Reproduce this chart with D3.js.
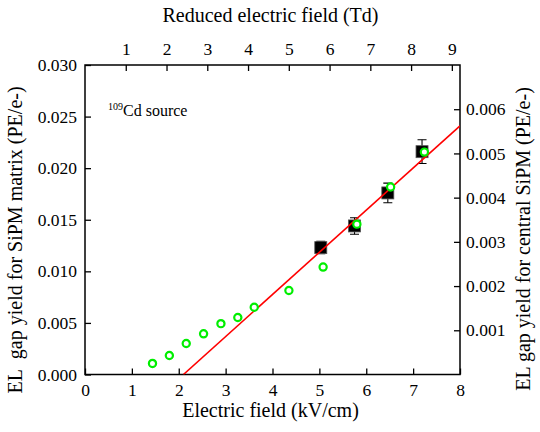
<!DOCTYPE html>
<html><head><meta charset="utf-8">
<script src="https://cdn.jsdelivr.net/npm/d3@7"></script>
<style>body{margin:0;background:#fff}svg{display:block}</style>
</head><body><svg id="c" width="540" height="432" font-family="Liberation Serif, Times New Roman, serif"></svg>
<script>
// Black squares: SiPM matrix (left axis)
const matrixField = [5.03, 5.75, 6.46, 7.19];
const matrixYield = [0.0123, 0.0144, 0.0176, 0.0216];
const matrixErr = [0.0006, 0.0008, 0.00095, 0.00115];
// Green circles: central SiPM (right axis)
const centralField = [1.44, 1.80, 2.16, 2.53, 2.90, 3.26, 3.61, 4.35, 5.08, 5.80, 6.52, 7.24];
const centralYield = [0.00025, 0.00043, 0.00070, 0.00092, 0.00115, 0.00129, 0.00152, 0.00190, 0.00243, 0.00340, 0.00424, 0.00503];
// Red linear fit (left axis)
const fitField = [2.10, 8.0];
const fitYield = [0.0, 0.0241];
// Ticks
const xTicks = [0,1,2,3,4,5,6,7,8];
const tdTicks = [1,2,3,4,5,6,7,8,9];
const yLeftTicks = [0, 0.005, 0.010, 0.015, 0.020, 0.025, 0.030];
const yRightTicks = [0.001, 0.002, 0.003, 0.004, 0.005, 0.006];

const FONT = "Liberation Serif, Times New Roman, serif";
const L = 85, R = 460, T = 65, B = 374.5;
const svg = d3.select("#c");
const x = d3.scaleLinear().domain([0, 8]).range([L, R]);
const xTop = d3.scaleLinear().domain([0, 9.2]).range([L, R]);
const yL = d3.scaleLinear().domain([0, 0.030]).range([B, T]);
const yR = d3.scaleLinear().domain([0, 0.007]).range([B, T]);

const tk = 6;
function style(g, fs) {
  g.attr("font-family", FONT).attr("font-size", fs);
  g.select(".domain").remove();
  g.selectAll("line").attr("stroke", "#000").attr("stroke-width", 1.3);
  g.selectAll("text").attr("font-family", FONT).attr("font-size", fs).attr("fill", "#000");
}
svg.append("g").attr("transform", `translate(0,${B})`)
  .call(d3.axisBottom(x).tickValues(xTicks).tickFormat(d3.format("d")).tickSizeInner(-tk).tickSizeOuter(0).tickPadding(9))
  .call(g => style(g, 17.5));
svg.append("g").attr("transform", `translate(0,${T})`)
  .call(d3.axisTop(xTop).tickValues(tdTicks).tickFormat(d3.format("d")).tickSizeInner(-tk).tickSizeOuter(0).tickPadding(10))
  .call(g => style(g, 17.5));
svg.append("g").attr("transform", `translate(${L},0)`)
  .call(d3.axisLeft(yL).tickValues(yLeftTicks).tickFormat(d3.format(".3f")).tickSizeInner(-tk).tickSizeOuter(0).tickPadding(8))
  .call(g => style(g, 17.5));
svg.append("g").attr("transform", `translate(${R},0)`)
  .call(d3.axisRight(yR).tickValues(yRightTicks).tickFormat(d3.format(".3f")).tickSizeInner(-tk).tickSizeOuter(0).tickPadding(6))
  .call(g => style(g, 17.5));

svg.append("rect").attr("x", L).attr("y", T).attr("width", R - L).attr("height", B - T)
  .attr("fill", "none").attr("stroke", "#000").attr("stroke-width", 1.5);

// clip
svg.append("clipPath").attr("id", "clip").append("rect").attr("x", L).attr("y", T).attr("width", R - L).attr("height", B - T);
const plot = svg.append("g").attr("clip-path", "url(#clip)");

// squares with error bars
const sq = 12;
const mData = matrixField.map((f, i) => ({f, y: matrixYield[i], e: matrixErr[i]}));
const eg = plot.append("g").attr("stroke", "#000").attr("stroke-width", 1.1);
mData.forEach(d => {
  eg.append("line").attr("x1", x(d.f)).attr("x2", x(d.f)).attr("y1", yL(d.y - d.e)).attr("y2", yL(d.y + d.e));
  [d.y - d.e, d.y + d.e].forEach(v => eg.append("line").attr("x1", x(d.f) - 4.5).attr("x2", x(d.f) + 4.5).attr("y1", yL(v)).attr("y2", yL(v)));
});
plot.append("g").selectAll("rect").data(mData).join("rect")
  .attr("x", d => x(d.f) - sq / 2).attr("y", d => yL(d.y) - sq / 2).attr("width", sq).attr("height", sq)
  .attr("fill", "#000").attr("stroke", "#555").attr("stroke-width", 0.8);

// fit line
plot.append("path").datum(fitField.map((f, i) => [f, fitYield[i]]))
  .attr("d", d3.line().x(d => x(d[0])).y(d => yL(d[1])))
  .attr("fill", "none").attr("stroke", "#f00").attr("stroke-width", 1.6);

// green circles
plot.append("g").selectAll("circle").data(centralField.map((f, i) => ({f, y: centralYield[i]}))).join("circle")
  .attr("cx", d => x(d.f)).attr("cy", d => yR(d.y)).attr("r", 3.6)
  .attr("fill", "#fff").attr("stroke", "#00ee00").attr("stroke-width", 2.2);

// annotation
const ann = svg.append("text").attr("x", 108).attr("y", 116).attr("font-size", 16).attr("font-family", FONT);
ann.append("tspan").attr("dy", -6).attr("font-size", 10).text("109");
ann.append("tspan").attr("dy", 6).text("Cd source");

// titles
const title = (sel) => sel.attr("font-family", FONT).attr("font-size", 20).attr("text-anchor", "middle").attr("fill", "#000");
svg.append("text").attr("x", (L + R) / 2 - 2).attr("y", 417).call(title).text("Electric field (kV/cm)");
svg.append("text").attr("x", (L + R) / 2 - 2).attr("y", 22).call(title).text("Reduced electric field (Td)");
svg.append("text").attr("transform", "translate(22,240) rotate(-90)").call(title).text("EL\u00a0 gap yield for SiPM matrix (PE/e-)");
svg.append("text").attr("transform", "translate(530,239) rotate(-90)").call(title).text("EL gap yield for central SiPM (PE/e-)");
</script></body></html>
